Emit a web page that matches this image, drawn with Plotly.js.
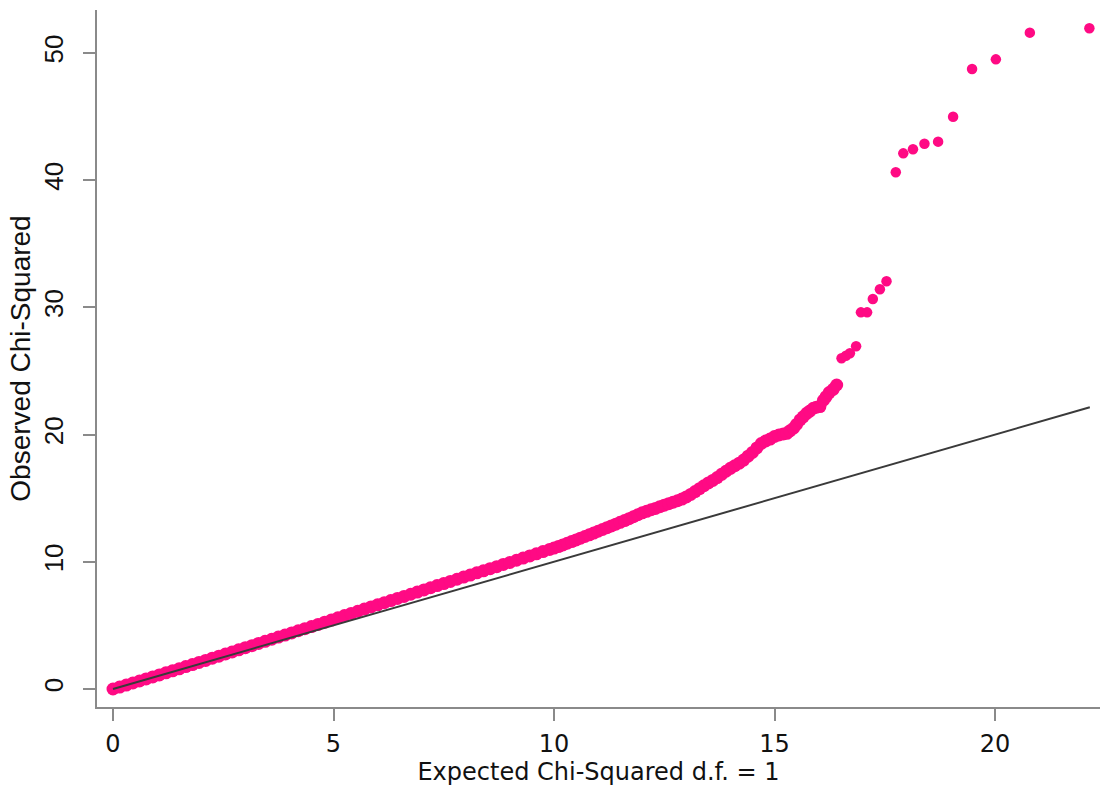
<!DOCTYPE html>
<html>
<head>
<meta charset="utf-8">
<script src="https://cdn.plot.ly/plotly-3.0.1.min.js"></script>
<style>
  html, body { margin: 0; padding: 0; background: #ffffff; }
  #chart { width: 1100px; height: 788px; }
</style>
</head>
<body>
<div id="chart"></div>
<script>
// Dense part of the Q-Q plot: expected chi-squared (1 d.f.) quantiles
var bandExpected = [
  0.00, 0.15, 0.30, 0.45, 0.60, 0.75, 0.90, 1.05, 1.20, 1.35, 1.50, 1.65, 1.80, 1.95,
  2.10, 2.25, 2.40, 2.55, 2.70, 2.85, 3.00, 3.15, 3.30, 3.45, 3.60, 3.75, 3.90, 4.05,
  4.20, 4.35, 4.50, 4.65, 4.80, 4.95, 5.10, 5.25, 5.40, 5.55, 5.70, 5.85, 6.00, 6.15,
  6.30, 6.45, 6.60, 6.75, 6.90, 7.05, 7.20, 7.35, 7.50, 7.65, 7.80, 7.95, 8.10, 8.25,
  8.40, 8.55, 8.70, 8.85, 9.00, 9.15, 9.30, 9.45, 9.60, 9.75, 9.90,
  10.0, 10.1, 10.2, 10.3, 10.4, 10.5, 10.6, 10.7, 10.8, 10.9, 11.0, 11.1, 11.2, 11.3,
  11.4, 11.5, 11.6, 11.7, 11.8, 11.9, 12.0, 12.1, 12.2, 12.3, 12.4, 12.5, 12.6, 12.7,
  12.8, 12.9, 13.0, 13.1, 13.2, 13.3, 13.4, 13.5, 13.6, 13.7, 13.8, 13.9, 14.0, 14.1,
  14.2, 14.3, 14.4, 14.5, 14.6, 14.7, 14.8, 14.9, 15.0, 15.1, 15.2, 15.28, 15.35, 15.43,
  15.5, 15.58, 15.65, 15.73, 15.8, 15.88, 15.95, 16.03, 16.11, 16.17, 16.24, 16.33, 16.41
];
var bandObserved = [
  0.00, 0.15, 0.31, 0.47, 0.63, 0.79, 0.95, 1.11, 1.27, 1.43, 1.59, 1.76, 1.92, 2.09,
  2.25, 2.42, 2.58, 2.75, 2.91, 3.08, 3.25, 3.41, 3.58, 3.75, 3.91, 4.08, 4.24, 4.41,
  4.58, 4.74, 4.91, 5.08, 5.25, 5.42, 5.60, 5.77, 5.94, 6.11, 6.28, 6.45, 6.62, 6.78,
  6.95, 7.12, 7.28, 7.45, 7.62, 7.79, 7.96, 8.13, 8.29, 8.46, 8.63, 8.80, 8.96, 9.13,
  9.29, 9.46, 9.62, 9.79, 9.95, 10.12, 10.29, 10.46, 10.63, 10.80, 10.97,
  11.08, 11.20, 11.33, 11.46, 11.59, 11.72, 11.86, 11.99, 12.12, 12.26, 12.40, 12.54, 12.68, 12.82,
  12.96, 13.10, 13.24, 13.39, 13.54, 13.70, 13.85, 13.97, 14.09, 14.20, 14.33, 14.45, 14.57, 14.68,
  14.80, 14.93, 15.10, 15.30, 15.52, 15.75, 15.98, 16.20, 16.40, 16.62, 16.88, 17.12, 17.35, 17.55,
  17.75, 18.00, 18.30, 18.60, 18.95, 19.30, 19.50, 19.65, 19.85, 19.97, 20.05, 20.10, 20.30, 20.50,
  20.80, 21.15, 21.40, 21.67, 21.85, 22.07, 22.15, 22.20, 22.70, 22.98, 23.30, 23.56, 23.90
];
// Sparse tail: expected and observed values of the largest statistics
var tailExpected = [
  16.52, 16.62, 16.71, 16.85, 16.96, 17.10, 17.23, 17.39, 17.54,
  17.75, 17.92, 18.14, 18.40, 18.71, 19.05, 19.48, 20.02, 20.79, 22.14
];
var tailObserved = [
  26.00, 26.20, 26.40, 26.94, 29.61, 29.61, 30.66, 31.42, 32.05,
  40.62, 42.11, 42.43, 42.87, 43.03, 44.99, 48.74, 49.50, 51.60, 51.94
];
// Reference line (observed = expected)
var refLineX = [0, 22.15];
var refLineY = [0, 22.15];

var xTickVals = [0, 5, 10, 15, 20];
var yTickVals = [0, 10, 20, 30, 40, 50];

var pink = '#ff0a84';

var traces = [
  {
    type: 'scatter', mode: 'markers',
    x: bandExpected, y: bandObserved,
    marker: { color: pink, size: 13, line: { width: 0 } },
    hoverinfo: 'x+y', showlegend: false
  },
  {
    type: 'scatter', mode: 'markers',
    x: tailExpected, y: tailObserved,
    marker: { color: pink, size: 10.5, line: { width: 0 } },
    hoverinfo: 'x+y', showlegend: false
  },
  {
    type: 'scatter', mode: 'lines',
    x: refLineX, y: refLineY,
    line: { color: '#3a3a3a', width: 2 },
    hoverinfo: 'skip', showlegend: false
  }
];

var layout = {
  width: 1100, height: 788,
  margin: { l: 97, r: 0, t: 10, b: 81, pad: 0 },
  paper_bgcolor: '#ffffff', plot_bgcolor: '#ffffff',
  showlegend: false,
  xaxis: {
    range: [-0.363, 22.381], autorange: false,
    tickvals: xTickVals, ticktext: xTickVals.map(String),
    showgrid: false, zeroline: false,
    showline: true, linecolor: '#8a8a8a', linewidth: 2,
    ticks: 'outside', ticklen: 12, tickwidth: 2, tickcolor: '#8a8a8a',
    tickfont: { family: 'DejaVu Sans', size: 24, color: '#111111' },
    ticklabelstandoff: 2,
    automargin: false,
    title: { text: 'Expected Chi-Squared d.f. = 1', standoff: 0,
             font: { family: 'DejaVu Sans', size: 24, color: '#111111' } }
  },
  yaxis: {
    range: [-1.415, 53.38], autorange: false,
    tickvals: yTickVals, ticktext: yTickVals.map(String),
    tickangle: -90,
    showgrid: false, zeroline: false,
    showline: true, linecolor: '#8a8a8a', linewidth: 2,
    ticks: 'outside', ticklen: 12, tickwidth: 2, tickcolor: '#8a8a8a',
    tickfont: { family: 'Liberation Sans', size: 26, color: '#111111' },
    ticklabelstandoff: 10,
    automargin: false,
    title: { text: 'Observed Chi-Squared', standoff: 0,
             font: { family: 'Liberation Sans', size: 28, color: '#111111' } }
  }
};

Plotly.newPlot('chart', traces, layout, { displayModeBar: false });
</script>
</body>
</html>
